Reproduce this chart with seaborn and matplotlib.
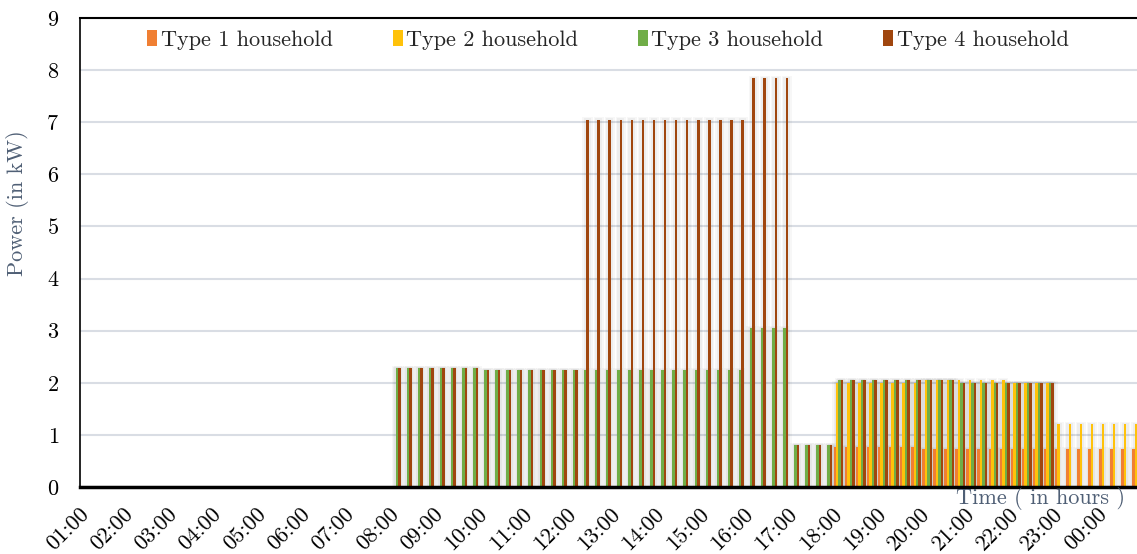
import numpy as np
import pandas as pd
import matplotlib
matplotlib.use('Agg')
import matplotlib.pyplot as plt
from matplotlib.patches import Rectangle
import seaborn as sns

hours = ['01:00', '02:00', '03:00', '04:00', '05:00', '06:00', '07:00', '08:00',
         '09:00', '10:00', '11:00', '12:00', '13:00', '14:00', '15:00', '16:00',
         '17:00', '18:00', '19:00', '20:00', '21:00', '22:00', '23:00', '00:00']
quarters = ['00', '15', '30', '45']
slots = [h[:3] + q for h in hours for q in quarters]

types = ['Type 1 household', 'Type 2 household', 'Type 3 household', 'Type 4 household']
colors = ['#F07F33', '#FFC20A', '#70AD47', '#A0460E']

# power in kW, one value per 15 min slot (12 slots per row = 3 hours)
type1 = [0, 0, 0, 0, 0, 0, 0, 0, 0, 0, 0, 0,
         0, 0, 0, 0, 0, 0, 0, 0, 0, 0, 0, 0,
         0, 0, 0, 0, 0, 0, 0, 0, 0, 0, 0, 0,
         0, 0, 0, 0, 0, 0, 0, 0, 0, 0, 0, 0,
         0, 0, 0, 0, 0, 0, 0, 0, 0, 0, 0, 0,
         0, 0, 0, 0, 0, 0, 0, 0, 0.77, 0.77, 0.77, 0.77,
         0.77, 0.77, 0.77, 0.77, 0.73, 0.73, 0.73, 0.73, 0.73, 0.73, 0.73, 0.73,
         0.73, 0.73, 0.73, 0.73, 0.73, 0.73, 0.73, 0.73, 0.73, 0.73, 0.73, 0.73]
type2 = [0, 0, 0, 0, 0, 0, 0, 0, 0, 0, 0, 0,
         0, 0, 0, 0, 0, 0, 0, 0, 0, 0, 0, 0,
         0, 0, 0, 0, 0, 0, 0, 0, 0, 0, 0, 0,
         0, 0, 0, 0, 0, 0, 0, 0, 0, 0, 0, 0,
         0, 0, 0, 0, 0, 0, 0, 0, 0, 0, 0, 0,
         0, 0, 0, 0, 0, 0, 0, 0, 2.0, 2.0, 2.0, 2.0,
         2.0, 2.0, 2.0, 2.0, 2.05, 2.05, 2.05, 2.05, 2.05, 2.05, 2.05, 2.05,
         2.0, 2.0, 2.0, 2.0, 1.2, 1.2, 1.2, 1.2, 1.2, 1.2, 1.2, 1.2]
type3 = [0, 0, 0, 0, 0, 0, 0, 0, 0, 0, 0, 0,
         0, 0, 0, 0, 0, 0, 0, 0, 0, 0, 0, 0,
         0, 0, 0, 0, 2.28, 2.28, 2.28, 2.28, 2.28, 2.28, 2.28, 2.28,
         2.24, 2.24, 2.24, 2.24, 2.24, 2.24, 2.24, 2.24, 2.24, 2.24, 2.24, 2.24,
         2.24, 2.24, 2.24, 2.24, 2.24, 2.24, 2.24, 2.24, 2.24, 2.24, 2.24, 2.24,
         3.05, 3.05, 3.05, 3.05, 0.8, 0.8, 0.8, 0.8, 2.05, 2.05, 2.05, 2.05,
         2.05, 2.05, 2.05, 2.05, 2.05, 2.05, 2.05, 2.0, 2.0, 2.0, 2.0, 2.0,
         2.0, 2.0, 2.0, 2.0, 0, 0, 0, 0, 0, 0, 0, 0]
type4 = [0, 0, 0, 0, 0, 0, 0, 0, 0, 0, 0, 0,
         0, 0, 0, 0, 0, 0, 0, 0, 0, 0, 0, 0,
         0, 0, 0, 0, 2.28, 2.28, 2.28, 2.28, 2.28, 2.28, 2.28, 2.28,
         2.24, 2.24, 2.24, 2.24, 2.24, 2.24, 2.24, 2.24, 2.24, 7.05, 7.05, 7.05,
         7.05, 7.05, 7.05, 7.05, 7.05, 7.05, 7.05, 7.05, 7.05, 7.05, 7.05, 7.05,
         7.85, 7.85, 7.85, 7.85, 0.8, 0.8, 0.8, 0.8, 2.05, 2.05, 2.05, 2.05,
         2.05, 2.05, 2.05, 2.05, 2.05, 2.05, 2.05, 2.0, 2.0, 2.0, 2.0, 2.0,
         2.0, 2.0, 2.0, 2.0, 0, 0, 0, 0, 0, 0, 0, 0]

df = pd.DataFrame({
    'slot': slots * 4,
    'type': [t for t in types for _ in slots],
    'power': type1 + type2 + type3 + type4,
})

sns.set_style('white')
plt.rcParams['font.family'] = ['cmr10', 'DejaVu Serif']
plt.rcParams['axes.formatter.use_mathtext'] = True

fig = plt.figure(figsize=(11.37, 5.54), dpi=100)
ax = fig.add_axes([80 / 1137, 67 / 554, 1063 / 1137, 469 / 554])

sns.barplot(data=df, x='slot', y='power', hue='type', order=slots, hue_order=types,
            palette=colors, saturation=1, width=0.9, linewidth=0, ax=ax)

# soft grey shadow behind each bar (like the excel shadow effect)
for p in list(ax.patches):
    h = p.get_height()
    if h > 0:
        for grow, a in [(0.35, 0.03), (0.2, 0.04)]:
            ax.add_patch(Rectangle((p.get_x() - grow, 0), p.get_width() + 2 * grow,
                                   h + grow * 0.12, facecolor='black', alpha=a,
                                   lw=0, zorder=0.9))

ax.set_xlim(-0.5, 95.5)
ax.set_ylim(0, 9)
ax.set_yticks(range(10))
ax.set_xticks(range(0, 96, 4))
ax.set_xticklabels(hours, rotation=45, ha='right', va='center', rotation_mode='anchor')
ax.tick_params(axis='both', length=0, labelsize=16, colors='black')
ax.tick_params(axis='x', pad=17)
ax.tick_params(axis='y', pad=15)

ax.yaxis.grid(True, color='#D9DDE4', linewidth=1.5)
ax.set_axisbelow(True)

ax.spines['top'].set_linewidth(1.5)
ax.spines['left'].set_linewidth(1.2)
ax.spines['bottom'].set_linewidth(2.5)
ax.spines['right'].set_visible(False)
for s in ['top', 'left', 'bottom']:
    ax.spines[s].set_color('black')
    ax.spines[s].set_zorder(3)

ax.set_xlabel('')
ax.set_ylabel('Power (in kW)', fontsize=16, color='#4F5F75')
ax.yaxis.set_label_coords(-0.048, 0.605)
fig.text(1125 / 1137, (554 - 499) / 554, 'Time ( in hours )', fontsize=16,
         color='#4F5F75', ha='right', va='center')

ax.legend(loc='center', bbox_to_anchor=(608 / 1137, (554 - 40) / 554),
          bbox_transform=fig.transFigure, ncol=4, frameon=False, fontsize=16,
          handlelength=0.45, handleheight=0.75, handletextpad=0.15, columnspacing=2.7)

fig.savefig('out.png', dpi=100)
